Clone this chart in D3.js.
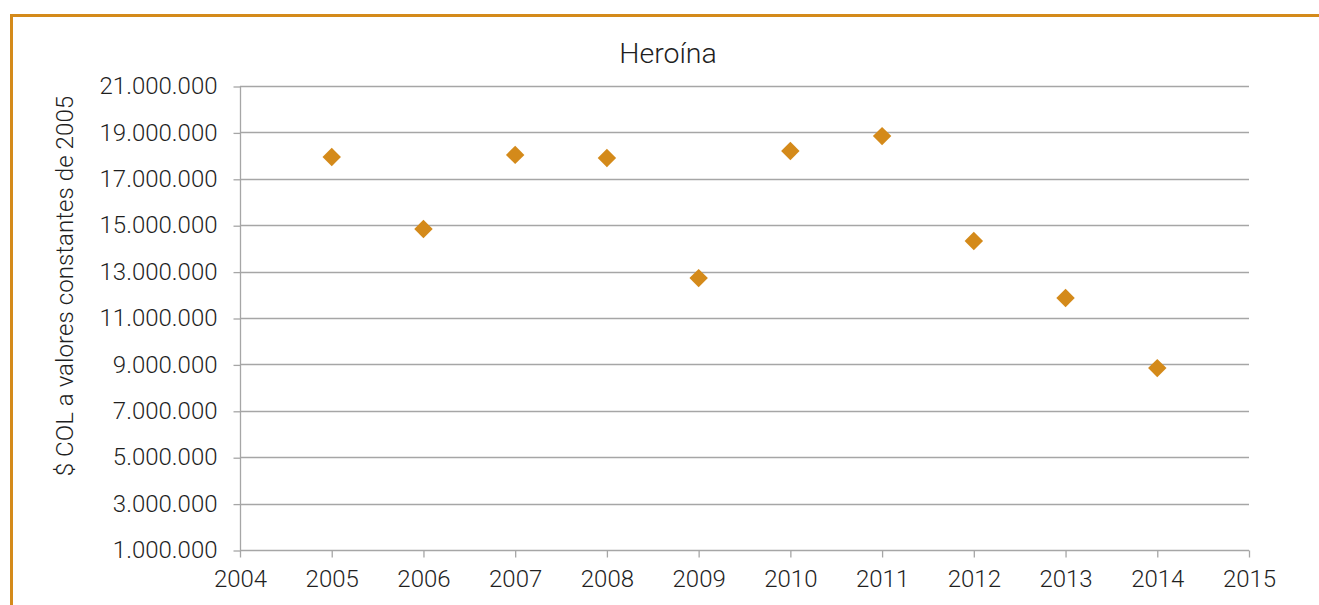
<!DOCTYPE html>
<html>
<head>
<meta charset="utf-8">
<script src="https://cdn.jsdelivr.net/npm/d3@7"></script>
<style>
  html, body { margin: 0; padding: 0; background: #fff; }
  svg { display: block; }
  text { font-family: Roboto, "Noto Sans", sans-serif; font-weight: 300; fill: #1f1f1f; }
</style>
</head>
<body>
<svg id="chart" width="1319" height="605"></svg>
<script>
const title = "Heroína";
const yAxisLabel = "$ COL a valores constantes de 2005";
const years = [2005, 2006, 2007, 2008, 2009, 2010, 2011, 2012, 2013, 2014];
const values = [17940000, 14840000, 18030000, 17900000, 12720000, 18200000, 18840000, 14320000, 11860000, 8840000];
const yTicks = [1000000, 3000000, 5000000, 7000000, 9000000, 11000000, 13000000, 15000000, 17000000, 19000000, 21000000];
const xTicks = [2004, 2005, 2006, 2007, 2008, 2009, 2010, 2011, 2012, 2013, 2014, 2015];

(function () {
const svg = d3.select("#chart");
const W = 1319, H = 605;
const orange = "#D48A1A";
const gridColor = "#A6A6A6";
const textColor = "#1f1f1f";
const fs = 24;

svg.append("path")
  .attr("d", `M11.5,${H} L11.5,15.5 L${W},15.5`)
  .attr("fill", "none").attr("stroke", orange).attr("stroke-width", 3);

const pL = 240, pR = 1249, pT = 86, pB = 550;
const x = d3.scaleLinear().domain([2004, 2015]).range([pL, pR]);
const y = d3.scaleLinear().domain([1000000, 21000000]).range([pB, pT]);

const fmt = v => d3.format(",")(v).replace(/,/g, ".");

svg.append("g").selectAll("line").data(yTicks.filter(d => d !== 1000000)).join("line")
  .attr("x1", pL).attr("x2", pR)
  .attr("y1", d => Math.round(y(d)) + 0.5).attr("y2", d => Math.round(y(d)) + 0.5)
  .attr("stroke", gridColor).attr("stroke-width", 1.3);

const yAxis = svg.append("g").attr("transform", `translate(${pL + 0.5},0)`)
  .call(d3.axisLeft(y).tickValues(yTicks).tickFormat(fmt).tickSize(7).tickPadding(16));
yAxis.selectAll("line").attr("stroke", gridColor).attr("stroke-width", 1.3)
  .attr("transform", "translate(0,0.5)");
yAxis.select(".domain").attr("stroke", gridColor).attr("stroke-width", 1.3).attr("d", `M0,${pT}V${pB}`);
yAxis.selectAll("text").attr("font-size", fs).attr("font-family", "Roboto").attr("font-weight", 300).attr("fill", textColor);

const xAxis = svg.append("g").attr("transform", `translate(0,${pB + 0.5})`)
  .call(d3.axisBottom(x).tickValues(xTicks).tickFormat(d3.format("d")).tickSize(7).tickPadding(12));
xAxis.selectAll("line").attr("stroke", gridColor).attr("stroke-width", 1.3);
xAxis.select(".domain").attr("stroke", gridColor).attr("stroke-width", 1.3).attr("d", `M${pL},0H${pR}`);
xAxis.selectAll("text").attr("font-size", fs).attr("font-family", "Roboto").attr("font-weight", 300).attr("fill", textColor);

const diamond = d3.symbol().type(d3.symbolSquare).size(170);
svg.append("g").selectAll("path").data(years).join("path")
  .attr("d", diamond)
  .attr("transform", (d, i) => `translate(${x(d)},${y(values[i])}) rotate(45)`)
  .attr("fill", orange);

svg.append("text").attr("x", 668).attr("y", 63).attr("text-anchor", "middle")
  .attr("font-size", 28.5).text(title);

svg.append("text").attr("transform", `translate(73,${(pT + pB) / 2 - 32}) rotate(-90)`)
  .attr("text-anchor", "middle").attr("font-size", 24.2).text(yAxisLabel);
})();
</script>
</body>
</html>
